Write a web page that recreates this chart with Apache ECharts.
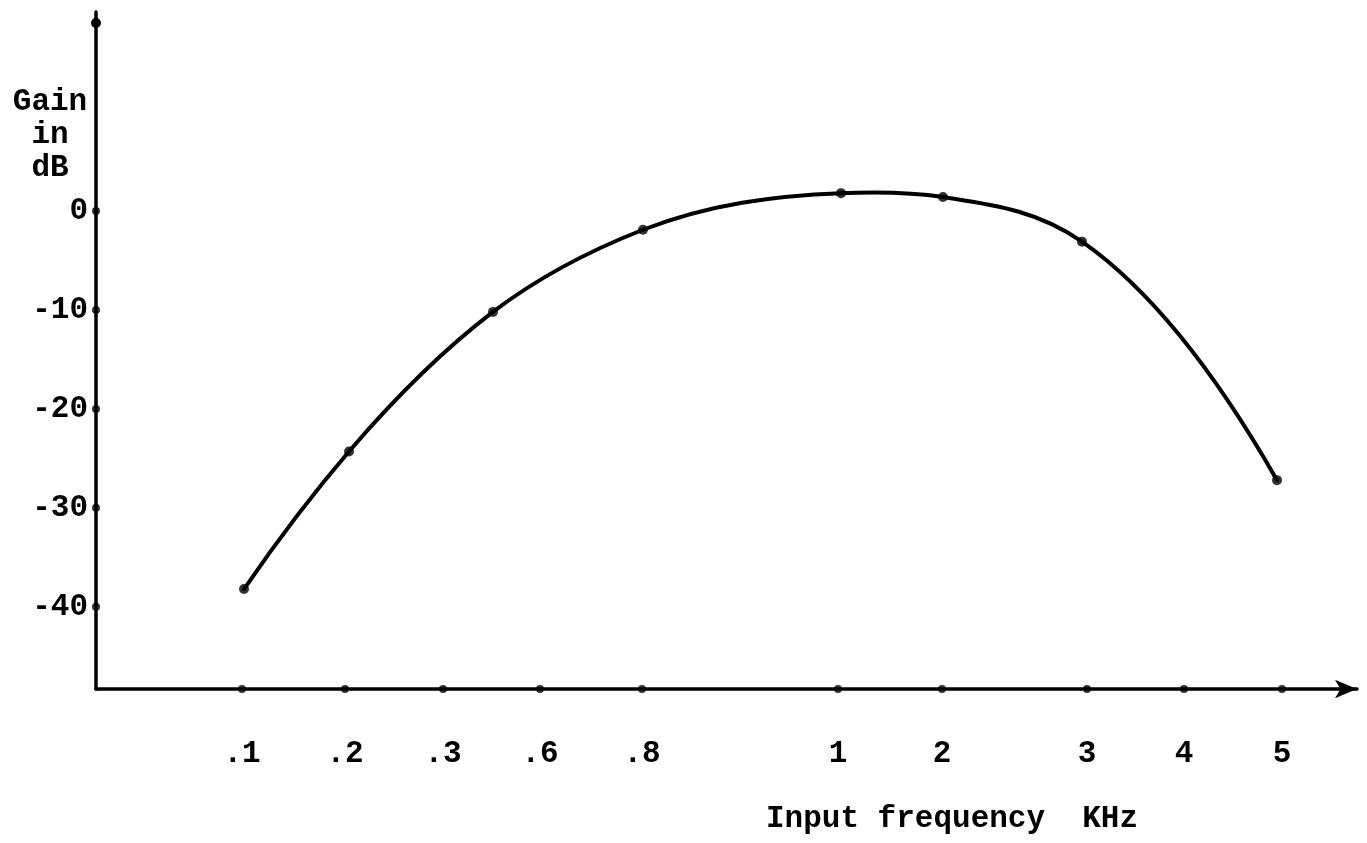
<!DOCTYPE html>
<html>
<head>
<meta charset="utf-8">
<script src="https://cdn.jsdelivr.net/npm/echarts@6/dist/echarts.min.js"></script>
<style>
  html, body { margin: 0; padding: 0; background: #ffffff; }
  #chart { width: 1367px; height: 843px; }
</style>
</head>
<body>
<div id="chart"></div>
<script>
// The frequency axis is hand-spaced: each labelled frequency has its own
// position along the axis (in axis units), not a linear or log scale.
const freqLabels  = ['.1', '.2', '.3', '.6', '.8', '1', '2', '3', '4', '5'];
const freqTickPos = [1.46, 2.49, 3.47, 4.44, 5.46, 7.42, 8.46, 9.91, 10.88, 11.86];

// Measured response: axis position of each reading and its gain in dB.
const pointPos = [1.48, 2.53, 3.97, 5.47, 7.45, 8.47, 9.86, 11.81];
const gainDb   = [-38.2, -24.3, -10.2, -1.9, 1.8, 1.4, -3.1, -27.2];

// Gain axis ticks and the extent of both axes.
const gainTicks = [0, -10, -20, -30, -40];
const xExtent = [0, 12.61];
const yExtent = [-48.3, 20.1];

const INK = '#000000';
const FONT_FAMILY = '"Liberation Mono", "Courier New", monospace';
const FONT_SIZE = 31;

const labelByPos = new Map(freqTickPos.map((p, i) => [p, freqLabels[i]]));
const readings = pointPos.map((p, i) => [p, gainDb[i]]);

// Smooth curve through the readings: piecewise cubic Hermite segments
// (y as a function of x), with each slope taken from the parabola through
// the point and its two neighbours.
function slopes(pts) {
  const n = pts.length;
  const h = [], d = [];
  for (let k = 0; k < n - 1; k++) {
    h.push(pts[k + 1][0] - pts[k][0]);
    d.push((pts[k + 1][1] - pts[k][1]) / h[k]);
  }
  const m = new Array(n);
  for (let k = 1; k < n - 1; k++) {
    m[k] = (d[k - 1] * h[k] + d[k] * h[k - 1]) / (h[k - 1] + h[k]);
  }
  m[0] = 2 * d[0] - m[1];
  m[n - 1] = 2 * d[n - 2] - m[n - 2];
  return m;
}

function curveSegment(params, api) {
  const i = params.dataIndexInside;
  if (i >= readings.length - 1) return null;
  const pts = readings.map(r => api.coord(r));
  const m = slopes(pts);
  const a = pts[i], b = pts[i + 1];
  const third = (b[0] - a[0]) / 3;
  return {
    type: 'bezierCurve',
    shape: {
      x1: a[0], y1: a[1], x2: b[0], y2: b[1],
      cpx1: a[0] + third, cpy1: a[1] + m[i] * third,
      cpx2: b[0] - third, cpy2: b[1] - m[i + 1] * third
    },
    style: { stroke: INK, lineWidth: 4, fill: null, lineCap: 'round' }
  };
}

const chart = echarts.init(document.getElementById('chart'), null, { renderer: 'canvas' });

chart.setOption({
  animation: false,
  backgroundColor: '#ffffff',
  grid: { left: 96, right: 10, top: 12, bottom: 154, containLabel: false },
  xAxis: {
    type: 'value',
    min: xExtent[0],
    max: xExtent[1],
    splitLine: { show: false },
    axisLine: {
      show: true,
      onZero: false,
      symbol: ['none', 'arrow'],
      symbolSize: [14, 22],
      lineStyle: { color: INK, width: 3.5 }
    },
    axisTick: { show: false },
    axisLabel: {
      show: true,
      customValues: freqTickPos,
      formatter: v => labelByPos.get(v) ?? '',
      margin: 50,
      color: INK,
      fontFamily: FONT_FAMILY,
      fontSize: FONT_SIZE,
      fontWeight: 'bold'
    }
  },
  yAxis: {
    type: 'value',
    min: yExtent[0],
    max: yExtent[1],
    splitLine: { show: false },
    axisLine: {
      show: true,
      onZero: false,
      symbol: ['none', 'circle'],
      symbolSize: [10, 10],
      symbolOffset: [0, -11],
      lineStyle: { color: INK, width: 3.5 }
    },
    axisTick: { show: false },
    axisLabel: {
      show: true,
      customValues: gainTicks,
      formatter: v => String(v),
      margin: 8,
      padding: [8, 0, 0, 0],
      color: INK,
      fontFamily: FONT_FAMILY,
      fontSize: FONT_SIZE,
      fontWeight: 'bold'
    }
  },
  graphic: [
    {
      type: 'text',
      x: 50,
      y: 86,
      style: {
        text: 'Gain\nin\ndB',
        font: `bold ${FONT_SIZE}px ${FONT_FAMILY}`,
        fontFamily: FONT_FAMILY,
        fontSize: FONT_SIZE,
        fontWeight: 'bold',
        lineHeight: 33,
        align: 'center',
        textAlign: 'center',
        verticalAlign: 'top',
        textVerticalAlign: 'top',
        fill: INK
      }
    },
    {
      type: 'text',
      x: 766,
      y: 819,
      style: {
        text: 'Input frequency  KHz',
        font: `bold ${FONT_SIZE}px ${FONT_FAMILY}`,
        fontFamily: FONT_FAMILY,
        fontSize: FONT_SIZE,
        fontWeight: 'bold',
        align: 'left',
        textAlign: 'left',
        verticalAlign: 'middle',
        textVerticalAlign: 'middle',
        fill: INK
      }
    }
  ],
  series: [
    {
      name: 'Gain curve',
      type: 'custom',
      renderItem: curveSegment,
      data: readings,
      clip: false,
      silent: true,
      z: 3
    },
    {
      name: 'Gain',
      type: 'scatter',
      data: readings,
      symbol: 'circle',
      symbolSize: 10,
      itemStyle: { color: INK },
      z: 4
    },
    {
      name: 'Axis marks',
      type: 'scatter',
      clip: false,
      silent: true,
      symbol: 'circle',
      symbolSize: 8,
      itemStyle: { color: INK },
      data: freqTickPos.map(p => [p, yExtent[0]])
        .concat(gainTicks.map(g => [xExtent[0], g])),
      z: 4
    }
  ]
});
</script>
</body>
</html>
